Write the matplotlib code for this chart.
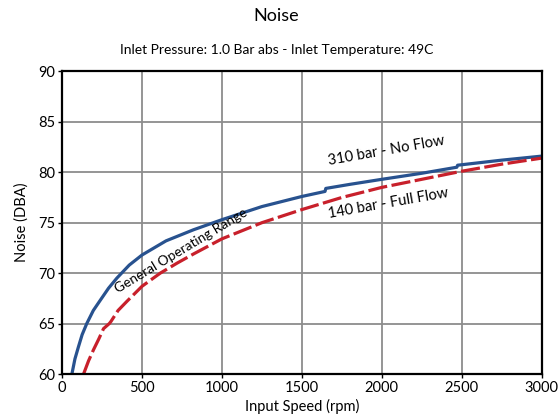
import matplotlib.pyplot as plt

plt.rcParams['font.family'] = ['Lato', 'DejaVu Sans']

# Curve data
rpm_no_flow = [61, 80, 102, 125, 154, 195, 238, 290, 342, 420, 500, 650, 822, 1000,
               1250, 1500, 1645, 1650, 1800, 2000, 2250, 2470, 2475, 2750, 3000]
dba_no_flow = [60, 61.5, 62.7, 63.9, 65, 66.3, 67.3, 68.5, 69.5, 70.8, 71.8, 73.2, 74.3, 75.3,
               76.6, 77.6, 78.1, 78.4, 78.8, 79.3, 79.9, 80.5, 80.7, 81.2, 81.6]

rpm_full_flow = [134, 165, 196, 230, 259, 295, 305, 350, 405, 500, 614, 720, 822, 1000,
                 1250, 1500, 1750, 2000, 2250, 2500, 2750, 3000]
dba_full_flow = [60, 61.3, 62.4, 63.5, 64.5, 65.0, 65.2, 66.3, 67.2, 68.7, 70.0, 71.0, 71.9, 73.4,
                 75.0, 76.3, 77.5, 78.5, 79.3, 80.1, 80.8, 81.4]

x_ticks = [0, 500, 1000, 1500, 2000, 2500, 3000]
y_ticks = [60, 65, 70, 75, 80, 85, 90]

fig = plt.figure(figsize=(5.6, 4.2), dpi=100)
ax = fig.add_axes([0.111, 0.1095, 0.856, 0.7205])

ax.plot(rpm_no_flow, dba_no_flow, color='#28528f', linewidth=2.3, solid_capstyle='butt')
ax.plot(rpm_full_flow, dba_full_flow, color='#c8202b', linewidth=2.3,
        dashes=(6, 1.4), dash_capstyle='butt')

ax.set_xlim(0, 3000)
ax.set_ylim(60, 90)
ax.set_xticks(x_ticks)
ax.set_yticks(y_ticks)
ax.grid(True, color='#8c8c8c', linewidth=1.3)
ax.set_axisbelow(True)
for s in ax.spines.values():
    s.set_linewidth(1.6)
    s.set_color('black')
ax.tick_params(direction='out', length=3, width=1, labelsize=10.5, pad=2)

ax.set_xlabel('Input Speed (rpm)', fontsize=10.5, labelpad=3)
ax.set_ylabel('Noise (DBA)', fontsize=10.5, labelpad=7)

ax.text(2029, 82.1, '310 bar - No Flow', rotation=10, fontsize=10.5,
        ha='center', va='center')
ax.text(2041, 76.9, '140 bar - Full Flow', rotation=10, fontsize=10.5,
        ha='center', va='center')
ax.text(745, 72.2, 'General Operating Range', rotation=31, fontsize=9.8,
        ha='center', va='center')

fig.text(0.494, 0.962, 'Noise', ha='center', va='center', fontsize=13)
fig.text(0.494, 0.88, 'Inlet Pressure: 1.0 Bar abs - Inlet Temperature: 49C',
         ha='center', va='center', fontsize=10)

fig.savefig('out.png', dpi=100)
